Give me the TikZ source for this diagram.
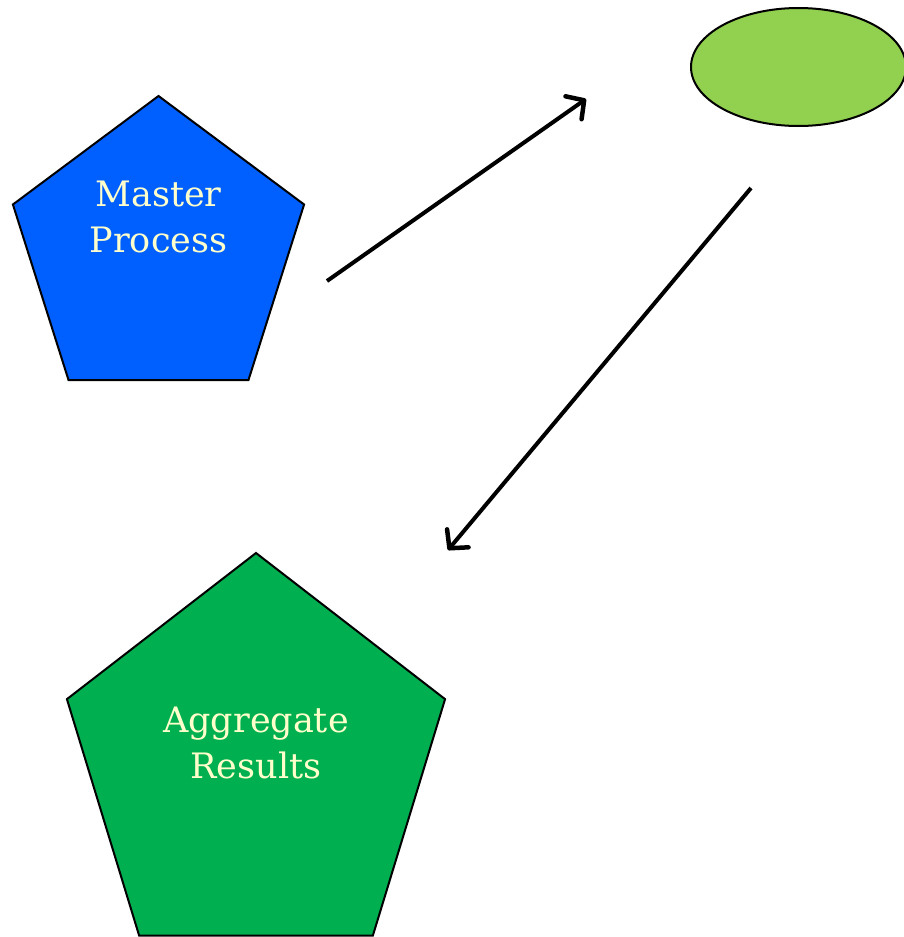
\documentclass[tikz,border=0pt]{standalone}
\usepackage{fontspec}
\setmainfont{DejaVu Serif}
\usetikzlibrary{shapes.geometric,arrows.meta}
\definecolor{procblue}{RGB}{0,96,255}
\definecolor{aggrgreen}{RGB}{0,176,80}
\definecolor{workgreen}{RGB}{146,208,80}
\definecolor{cream}{RGB}{255,255,204}
\begin{document}
\begin{tikzpicture}[
  x=1pt,y=-1pt,
  penta/.style={draw,regular polygon,regular polygon sides=5,inner sep=0pt,line width=2pt},
  ovalbox/.style={draw,ellipse,inner sep=0pt,line width=2pt,fill=workgreen},
  txt/.style={align=center,text=cream,font=\fontsize{35}{46}\selectfont},
  ar/.style={-{Straight Barb[length=13pt,width=28pt,line width=4.5pt,round]},line width=4pt}
]
\useasboundingbox (0,0) rectangle (903,937);
\node[penta,fill=procblue,minimum size=314pt,xscale=0.975] (master) at (158.5,253) {};
\node[txt] (mastertxt) at (158.5,217) {Master\\Process};
\node[ovalbox,minimum width=215pt,minimum height=118pt] (worker) at (798.5,67) {};
\node[penta,fill=aggrgreen,minimum size=423pt,xscale=0.94] (aggr) at (256,764.5) {};
\node[txt] (aggrtxt) at (256,743) {Aggregate\\Results};
\coordinate (sendA) at (327,281);
\coordinate (sendB) at (586,99);
\coordinate (backA) at (751,188);
\coordinate (backB) at (448,550);
\draw[ar] (sendA) -- (sendB);
\draw[ar] (backA) -- (backB);
\end{tikzpicture}
\end{document}
